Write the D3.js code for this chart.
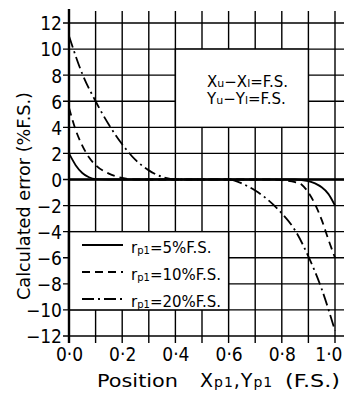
<!DOCTYPE html>
<html>
<head>
<meta charset="utf-8">
<title>Calculated error</title>
<style>
  body { margin: 0; background: #fff; }
  text { font-family: "DejaVu Sans Condensed", "Liberation Sans Narrow", "Liberation Sans", sans-serif; fill: #000; }
  .wide { font-family: "DejaVu Sans", "Liberation Sans", sans-serif; }
</style>
</head>
<body>

<div id="my_dataviz"></div>

<script src="https://d3js.org/d3.v7.min.js"></script>
<script>

    // tick values
    var xTicks = [0, 0.1, 0.2, 0.3, 0.4, 0.5, 0.6, 0.7, 0.8, 0.9, 1.0];
    var xLabels = ["0·0", "0·2", "0·4", "0·6", "0·8", "1·0"];
    var yTicks = [-12, -10, -8, -6, -4, -2, 0, 2, 4, 6, 8, 10, 12];

    // rp1 = 5% F.S.
    var pos5 = [0, 0.025, 0.05, 0.075, 0.1, 0.15, 0.85, 0.9, 0.925, 0.95, 0.975, 1.0];
    var err5 = [2.0, 1.1, 0.5, 0.17, 0.03, 0, 0, -0.12, -0.3, -0.6, -1.1, -2.0];

    // rp1 = 10% F.S.
    var pos10 = [0, 0.025, 0.05, 0.075, 0.1, 0.15, 0.2, 0.25, 0.75, 0.8, 0.85, 0.875, 0.9, 0.925, 0.95, 0.975, 1.0];
    var err10 = [5.5, 3.8, 2.6, 1.7, 1.1, 0.45, 0.12, 0, 0, -0.05, -0.2, -0.4, -1.0, -1.9, -3.1, -4.6, -6.0];

    // rp1 = 20% F.S.
    var pos20 = [0, 0.05, 0.1, 0.15, 0.2, 0.25, 0.3, 0.35, 0.4, 0.6, 0.65, 0.7, 0.75, 0.8, 0.85, 0.9, 0.95, 1.0];
    var err20 = [11, 8.1, 6.0, 4.2, 2.7, 1.5, 0.7, 0.2, 0, 0, -0.3, -0.85, -1.6, -2.6, -3.9, -5.9, -8.4, -11.6];

    var legendNames = ["=5%F.S.", "=10%F.S.", "=20%F.S."];

    var W = 344, H = 397;

    var svg = d3.select("#my_dataviz")
      .append("svg")
        .attr("width", W)
        .attr("height", H);

    var x = d3.scaleLinear().domain([0, 1]).range([69, 335]);
    var y = d3.scaleLinear().domain([-12, 12]).range([336, 23]);

    var grid = svg.append("g")
      .attr("stroke", "#000")
      .attr("stroke-width", 1.4);

    // vertical grid lines (run a bit past the top and bottom)
    grid.selectAll(".vline")
      .data(xTicks)
      .enter()
      .append("line")
        .attr("x1", function(d) { return x(d); })
        .attr("x2", function(d) { return x(d); })
        .attr("y1", y(12) - 12)
        .attr("y2", y(-12) + 7);

    // horizontal grid lines (with little ticks left of the axis)
    grid.selectAll(".hline")
      .data(yTicks)
      .enter()
      .append("line")
        .attr("x1", x(0) - 6)
        .attr("x2", W)
        .attr("y1", function(d) { return y(d); })
        .attr("y2", function(d) { return y(d); });

    // bold zero lines
    svg.append("line")
      .attr("x1", x(0)).attr("x2", W)
      .attr("y1", y(0)).attr("y2", y(0))
      .attr("stroke", "#000").attr("stroke-width", 2.6);
    svg.append("line")
      .attr("x1", x(0)).attr("x2", x(0))
      .attr("y1", y(12) - 14).attr("y2", y(-12) + 7)
      .attr("stroke", "#000").attr("stroke-width", 2.4);

    // Y axis labels
    var yAxis = d3.axisLeft(y)
      .tickValues(yTicks)
      .tickSize(6)
      .tickPadding(1)
      .tickFormat(function(d) { return d < 0 ? "\u2212" + Math.abs(d) : d; });
    svg.append("g")
      .attr("transform", "translate(" + x(0) + ",0)")
      .call(yAxis)
      .call(function(g) { g.select(".domain").remove(); g.selectAll("line").remove(); })
      .selectAll("text")
        .attr("font-size", 19)
        .attr("dy", "0.36em");

    // X axis labels (last one pulled in so it stays on the page)
    var xAxis = d3.axisBottom(x)
      .tickValues([0, 0.2, 0.4, 0.6, 0.8, 1.0])
      .tickSize(7)
      .tickPadding(5)
      .tickFormat(function(d, i) { return xLabels[i]; });
    svg.append("g")
      .attr("transform", "translate(0," + y(-12) + ")")
      .call(xAxis)
      .call(function(g) { g.select(".domain").remove(); g.selectAll("line").remove(); })
      .selectAll("text")
        .attr("font-size", 19)
        .attr("text-anchor", function(d) { return d === 1 ? "end" : "middle"; })
        .attr("dx", function(d) { return d === 1 ? W - 2 - x(1) : 0; });

    // curves
    var line = d3.line()
      .x(function(d) { return x(d[0]); })
      .y(function(d) { return y(d[1]); })
      .curve(d3.curveMonotoneX);

    var series = [
      {pos: pos5, err: err5, dash: null},
      {pos: pos10, err: err10, dash: "8,5"},
      {pos: pos20, err: err20, dash: "12,4,2,4"}
    ];

    svg.selectAll(".curve")
      .data(series)
      .enter()
      .append("path")
        .attr("class", "curve")
        .attr("d", function(s) { return line(s.pos.map(function(p, i) { return [p, s.err[i]]; })); })
        .attr("fill", "none")
        .attr("stroke", "#000")
        .attr("stroke-width", 1.8)
        .attr("stroke-dasharray", function(s) { return s.dash; });

    // text box top right
    svg.append("rect")
      .attr("x", x(0.4)).attr("y", y(10))
      .attr("width", x(0.9) - x(0.4)).attr("height", y(4) - y(10))
      .attr("fill", "#fff").attr("stroke", "#000").attr("stroke-width", 1.4);

    function noteLine(letter, yy) {
      var t = svg.append("text")
        .attr("class", "wide")
        .attr("x", 207).attr("y", yy)
        .attr("font-size", 15);
      t.append("tspan").text(letter);
      t.append("tspan").attr("font-size", 11).text("u");
      t.append("tspan").text("\u2212" + letter);
      t.append("tspan").attr("font-size", 11).text("l");
      t.append("tspan").text("=F.S.");
    }
    noteLine("X", 87);
    noteLine("Y", 104);

    // legend box
    svg.append("rect")
      .attr("x", x(0)).attr("y", y(-4))
      .attr("width", x(0.6) - x(0)).attr("height", y(-10) - y(-4))
      .attr("fill", "#fff").attr("stroke", "#000").attr("stroke-width", 1.4);
    svg.append("line")
      .attr("x1", x(0)).attr("x2", x(0))
      .attr("y1", y(-4)).attr("y2", y(-10))
      .attr("stroke", "#000").attr("stroke-width", 2.4);

    var legRows = [245, 272, 299];
    series.forEach(function(s, i) {
      svg.append("line")
        .attr("x1", 82).attr("x2", 123)
        .attr("y1", legRows[i]).attr("y2", legRows[i])
        .attr("stroke", "#000").attr("stroke-width", 1.8)
        .attr("stroke-dasharray", s.dash);
      var t = svg.append("text")
        .attr("class", "wide")
        .attr("x", 131).attr("y", legRows[i] + 8)
        .attr("font-size", 15);
      t.append("tspan").text("r");
      t.append("tspan").attr("font-size", 10).attr("dy", 1).text("p1");
      t.append("tspan").attr("dy", -1).text(legendNames[i]);
    });

    // axis titles
    svg.append("text")
      .attr("class", "wide")
      .attr("transform", "translate(30," + 196 + ") rotate(-90)")
      .attr("text-anchor", "middle")
      .attr("font-size", 17)
      .attr("textLength", 208)
      .attr("lengthAdjust", "spacingAndGlyphs")
      .text("Calculated error (%F.S.)");

    svg.append("text")
      .attr("class", "wide")
      .attr("x", 97).attr("y", 387)
      .attr("font-size", 18)
      .attr("textLength", 81)
      .attr("lengthAdjust", "spacingAndGlyphs")
      .text("Position");

    var xt = svg.append("text")
      .attr("class", "wide")
      .attr("x", 200).attr("y", 387)
      .attr("font-size", 19)
      .attr("letter-spacing", 1);
    xt.append("tspan").text("X");
    xt.append("tspan").attr("font-size", 14).text("p1");
    xt.append("tspan").text(",Y");
    xt.append("tspan").attr("font-size", 14).text("p1");

    svg.append("text")
      .attr("class", "wide")
      .attr("x", 285).attr("y", 387)
      .attr("font-size", 18)
      .attr("textLength", 55)
      .attr("lengthAdjust", "spacingAndGlyphs")
      .text("(F.S.)");

</script>

</body>

</html>
